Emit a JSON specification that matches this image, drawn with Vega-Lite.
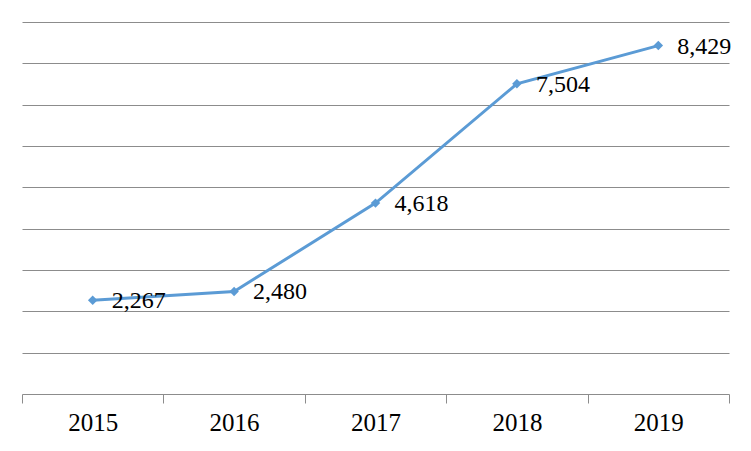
{
  "$schema": "https://vega.github.io/schema/vega-lite/v6.json",
  "width": 707,
  "height": 372,
  "autosize": {"type": "none"},
  "padding": {"left": 22, "top": 22, "right": 22, "bottom": 57},
  "background": "white",
  "config": {"view": {"stroke": null}, "font": "Liberation Serif"},
  "data": {"values": [
    {"year": "2015", "value": 2267, "label": "2,267"},
    {"year": "2016", "value": 2480, "label": "2,480"},
    {"year": "2017", "value": 4618, "label": "4,618"},
    {"year": "2018", "value": 7504, "label": "7,504"},
    {"year": "2019", "value": 8429, "label": "8,429"}
  ]},
  "encoding": {
    "x": {"field": "year", "type": "nominal", "scale": {"paddingInner": 0, "paddingOuter": 0},
      "axis": {"title": null, "labelAngle": 0, "tickBand": "extent", "labelFont": "Liberation Serif", "labelFontSize": 25, "labelColor": "black", "domainColor": "#8c8c8c", "tickColor": "#8c8c8c", "tickSize": 9, "labelPadding": 7, "domainWidth": 1.2}},
    "y": {"field": "value", "type": "quantitative", "scale": {"domain": [0, 9000], "nice": false},
      "axis": {"title": null, "labels": false, "ticks": false, "domain": false, "values": [1000,2000,3000,4000,5000,6000,7000,8000,9000], "gridColor": "#8c8c8c", "gridWidth": 1.2}}
  },
  "layer": [
    {"mark": {"type": "line", "color": "#5B9BD5", "strokeWidth": 3}},
    {"mark": {"type": "point", "shape": "diamond", "filled": true, "color": "#5B9BD5", "size": 90, "opacity": 1}},
    {"mark": {"type": "text", "align": "left", "baseline": "middle", "dx": 19, "dy": 1, "fontSize": 24, "font": "Liberation Serif", "color": "black"},
     "encoding": {"text": {"field": "label"}}}
  ]
}
